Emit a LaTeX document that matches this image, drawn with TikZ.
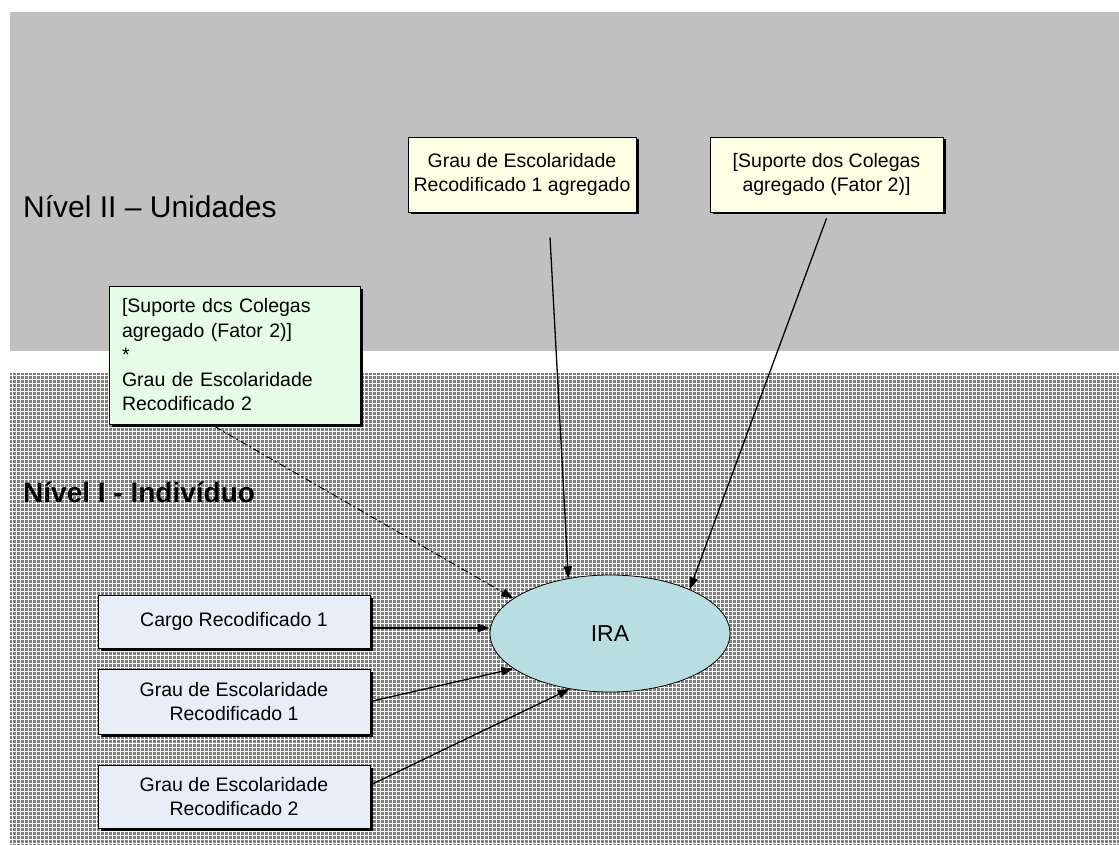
\documentclass[tikz,border=0pt]{standalone}
\usepackage{fontspec}
\setmainfont{Liberation Sans}
\usetikzlibrary{arrows.meta,shapes.geometric,shadows}
\definecolor{topgray}{HTML}{C0C0C0}
\definecolor{botgray}{HTML}{808080}
\definecolor{yellowfill}{HTML}{FFFFE6}
\definecolor{greenfill}{HTML}{E6FCE6}
\definecolor{bluefill}{HTML}{E8EEF8}
\definecolor{irafill}{HTML}{B8DEE2}
\begin{document}
\begin{tikzpicture}[x=1pt,y=-1pt,
  boxbase/.style={draw=black, line width=0.8pt, inner sep=0pt, align=center,
    font=\fontsize{19.5}{24.5}\selectfont,
    drop shadow={shadow xshift=2.5pt, shadow yshift=-2.5pt, fill=black, opacity=1}},
  ybox/.style={boxbase, fill=yellowfill},
  gbox/.style={boxbase, fill=greenfill},
  bbox/.style={boxbase, fill=bluefill, minimum width=272},
  lvl/.style={anchor=base west, inner sep=0pt, font=\fontsize{30}{34}\selectfont},
  arr/.style={line width=1.3pt, -{Triangle[length=12pt,width=8.5pt]}},
]
\useasboundingbox (0,0) rectangle (1119,845);
\fill[white] (0,0) rectangle (1119,845);
% upper band
\fill[topgray] (10,12) rectangle (1119,351);
% lower band with grid texture
\fill[botgray] (10,373) rectangle (1119,845);
\foreach \x in {12.5,16.5,...,1118} \draw[white, line width=0.75pt] (\x,373) -- (\x,845);
\foreach \y in {375.5,379.5,...,845} \draw[white, line width=0.75pt] (10,\y) -- (1119,\y);

% level labels
\node[lvl] (lvl2) at (23,218) {Nível II – Unidades};
\node[lvl, font=\fontsize{28}{34}\selectfont\bfseries] (lvl1) at (23,502) {Nível I - Indivíduo};

% upper boxes
\node[ybox, minimum width=228, minimum height=75] (t1) at (522,174.5)
  {Grau de Escolaridade\\Recodificado 1 agregado};
\node[ybox, minimum width=233, minimum height=75] (t2) at (826.5,174.5)
  {[Suporte dos Colegas\\agregado (Fator 2)]};

% interaction box
\node[gbox, minimum height=138, text width=225, inner xsep=13pt, align=left] (g) at (234.5,355)
  {[Suporte dcs Colegas\\agregado (Fator 2)]\\{*}\\Grau de Escolaridade\\Recodificado 2};

% lower boxes
\node[bbox, minimum height=53] (c1) at (234,621.5) {Cargo Recodificado 1};
\node[bbox, minimum height=65] (g1) at (234,701.5) {Grau de Escolaridade\\Recodificado 1};
\node[bbox, minimum height=63] (g2) at (234,796.5) {Grau de Escolaridade\\Recodificado 2};

% outcome
\node[ellipse, draw=black, line width=0.8pt, fill=irafill, minimum width=240, minimum height=117,
  inner sep=0pt, font=\fontsize{23}{27}\selectfont] (ira) at (610,633.5) {IRA};

% connectors
\draw[arr] ([xshift=28pt,yshift=-25pt]t1.south) -- (ira.127);
\draw[arr] ([yshift=-6pt]t2.south) -- (ira.29);
\draw[arr, line width=1pt, dash pattern=on 7pt off 3pt on 2pt off 3pt] ([xshift=106pt,yshift=-2pt]g.south west) -- (ira.160);
\draw[arr] ([yshift=-6.5pt]c1.east) -- ([yshift=-6.5pt]c1.east -| ira.west);
\draw[arr] (g1.east) -- (ira.200);
\draw[arr] ([yshift=11.5pt]g2.east) -- (ira.234);
\end{tikzpicture}
\end{document}
